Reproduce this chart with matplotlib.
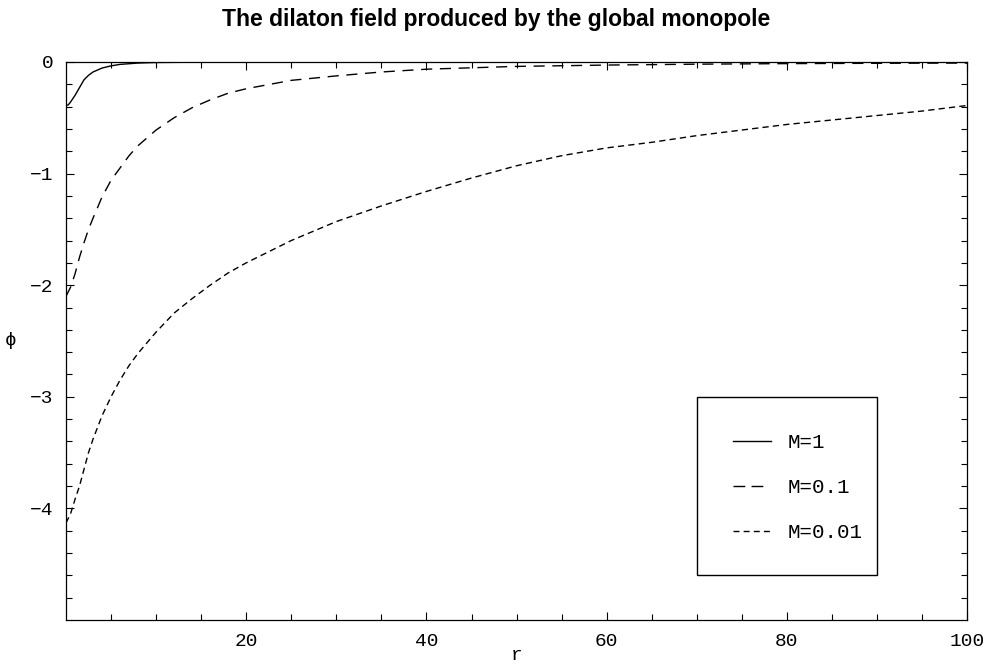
import numpy as np
import matplotlib
matplotlib.use('Agg')
import matplotlib.pyplot as plt
from matplotlib.patches import Rectangle
from matplotlib.lines import Line2D

# values
r_m1 = [0, 0.25, 0.5, 1, 1.5, 2, 2.5, 3, 4, 5, 6, 8, 10, 15, 20, 30, 50, 100]
phi_m1 = [-0.39, -0.385, -0.36, -0.30, -0.23, -0.16, -0.12, -0.09, -0.055,
          -0.035, -0.022, -0.01, -0.005, -0.002, -0.001, 0, 0, 0]

r_m01 = [0, 0.5, 1, 1.5, 2, 2.5, 3, 4, 5, 6, 7, 8, 10, 12, 14, 16, 18, 20,
         25, 30, 35, 40, 50, 60, 70, 80, 90, 100]
phi_m01 = [-2.10, -2.02, -1.90, -1.75, -1.62, -1.50, -1.40, -1.21, -1.06,
           -0.95, -0.84, -0.75, -0.61, -0.50, -0.41, -0.34, -0.28, -0.24,
           -0.165, -0.125, -0.09, -0.065, -0.04, -0.028, -0.02, -0.015,
           -0.012, -0.01]

r_m001 = [0, 0.5, 1, 1.5, 2, 2.5, 3, 4, 5, 6, 7, 8, 10, 12, 14, 16, 18, 20,
          25, 30, 35, 40, 45, 50, 55, 60, 65, 70, 75, 80, 85, 90, 95, 100]
phi_m001 = [-4.13, -4.05, -3.92, -3.80, -3.65, -3.50, -3.38, -3.17, -3.00,
            -2.85, -2.72, -2.61, -2.42, -2.25, -2.12, -2.00, -1.89, -1.80,
            -1.60, -1.43, -1.29, -1.16, -1.04, -0.93, -0.84, -0.77, -0.72,
            -0.66, -0.61, -0.56, -0.52, -0.48, -0.44, -0.39]

labels = ['M=1', 'M=0.1', 'M=0.01']

mono = ['Liberation Mono', 'DejaVu Sans Mono']

fig = plt.figure(figsize=(9.92, 6.66), dpi=100)
ax = fig.add_axes([0.0665, 0.069, 0.9085, 0.838])

ax.plot(r_m1, phi_m1, color='black', lw=1.0)
ax.plot(r_m01, phi_m01, color='black', lw=1.0, dashes=(8, 5.5))
ax.plot(r_m001, phi_m001, color='black', lw=1.0, dashes=(4.5, 3))

ax.set_xlim(0, 100)
ax.set_ylim(-5, 0)
ax.set_xticks([20, 40, 60, 80, 100])
ax.set_xticks(np.arange(5, 100, 5), minor=True)
ax.set_yticks([0, -1, -2, -3, -4])
ax.set_yticks(np.arange(-4.8, 0, 0.2), minor=True)
ax.tick_params(which='both', direction='in', top=True, right=True,
               labelsize=14, width=0.8)
ax.tick_params(which='major', length=6, pad=9)
ax.tick_params(which='minor', length=4)
for lab in ax.get_xticklabels() + ax.get_yticklabels():
    lab.set_family(mono)
for sp in ax.spines.values():
    sp.set_linewidth(0.9)

ax.set_xlabel('r', family=mono, fontsize=14, labelpad=-2)
ax.set_ylabel('ϕ', family=mono, fontsize=14, rotation=0, labelpad=14, va='center')

fig.suptitle('The dilaton field produced by the global monopole',
             family='Liberation Sans', fontweight='bold', fontsize=16.5, y=0.988)

# legend box, drawn by hand like the original frame
ax.add_patch(Rectangle((0.70, 0.081), 0.20, 0.319, transform=ax.transAxes,
                       fill=False, edgecolor='black', lw=1.0))
handles = [Line2D([], [], color='black', lw=1.0),
           Line2D([], [], color='black', lw=1.0, dashes=(8.5, 4.5, 8.5, 20)),
           Line2D([], [], color='black', lw=1.0, dashes=(4.3, 3))]
ax.legend(handles, labels, loc='center', bbox_to_anchor=(0.812, 0.237),
          frameon=False, prop={'family': mono, 'size': 15}, handlelength=1.8,
          handletextpad=0.8, labelspacing=1.25)

fig.savefig('out.png', dpi=100)
